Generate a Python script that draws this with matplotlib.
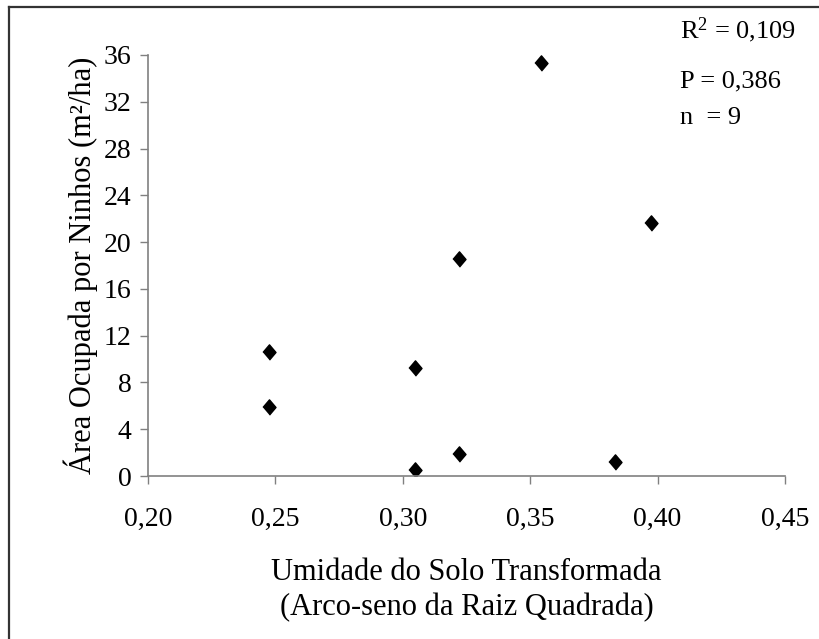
import matplotlib
matplotlib.use("Agg")
import matplotlib.pyplot as plt
from matplotlib.lines import Line2D

# Data
umidade = [0.2476, 0.2476, 0.3048, 0.3048, 0.3221, 0.3221, 0.3544, 0.3834, 0.3975]
area = [10.57, 5.94, 9.21, 0.54, 18.56, 1.85, 35.29, 1.19, 21.65]

x_ticks = [0.20, 0.25, 0.30, 0.35, 0.40, 0.45]
x_tick_labels = ["0,20", "0,25", "0,30", "0,35", "0,40", "0,45"]
y_ticks = [0, 4, 8, 12, 16, 20, 24, 28, 32, 36]

stats_lines = [r"R$^{2}$ = 0,109", "P = 0,386", "n  = 9"]

plt.rcParams['font.family'] = ['Liberation Serif', 'DejaVu Serif']
plt.rcParams['mathtext.fontset'] = 'custom'
plt.rcParams['mathtext.rm'] = 'Liberation Serif'
plt.rcParams['mathtext.it'] = 'Liberation Serif:italic'

W, H = 819, 639
fig = plt.figure(figsize=(W / 100, H / 100), dpi=100)
ax = fig.add_axes([148 / W, 1 - 476 / H, (785 - 148) / W, (476 - 55) / H])

diamond = [(-0.85, 0), (0, 1), (0.85, 0), (0, -1)]
ax.plot(umidade, area, linestyle='none', marker=diamond, markersize=11,
        color='black', markeredgecolor='black')

ax.set_xlim(0.20, 0.45)
ax.set_ylim(0, 36)
ax.set_xticks(x_ticks)
ax.set_xticklabels(x_tick_labels)
ax.set_yticks(y_ticks)

for s in ['top', 'right']:
    ax.spines[s].set_visible(False)
for s in ['left', 'bottom']:
    ax.spines[s].set_color('#808080')
    ax.spines[s].set_linewidth(1.2)
ax.tick_params(axis='both', direction='out', length=6, width=1.0,
               color='#808080', labelsize=20, labelcolor='black')
ax.tick_params(axis='x', pad=16)
ax.tick_params(axis='y', pad=6)

ax.set_ylabel("Área Ocupada por Ninhos (m²/ha)", fontsize=22)
ax.yaxis.set_label_coords(-0.078, 0.5)
ax.set_xlabel("Umidade do Solo Transformada\n(Arco-seno da Raiz Quadrada)",
              fontsize=22, linespacing=1.25)
ax.xaxis.set_label_coords(0.5, -0.195)

fig.text(680 / W, 1 - 30 / H, stats_lines[0], fontsize=19, va='center', ha='left')
fig.text(680 / W, 1 - 81 / H, stats_lines[1], fontsize=19, va='center', ha='left')
fig.text(680 / W, 1 - 118 / H, stats_lines[2], fontsize=19, va='center', ha='left')

# partial outer frame (left and top visible)
fig.add_artist(Line2D([9 / W, 9 / W], [0, 1 - 7 / H], transform=fig.transFigure,
                      color='#333333', linewidth=1.6))
fig.add_artist(Line2D([9 / W, 1], [1 - 7 / H, 1 - 7 / H], transform=fig.transFigure,
                      color='#333333', linewidth=1.6))

fig.savefig("out.png", dpi=100, facecolor='white')
